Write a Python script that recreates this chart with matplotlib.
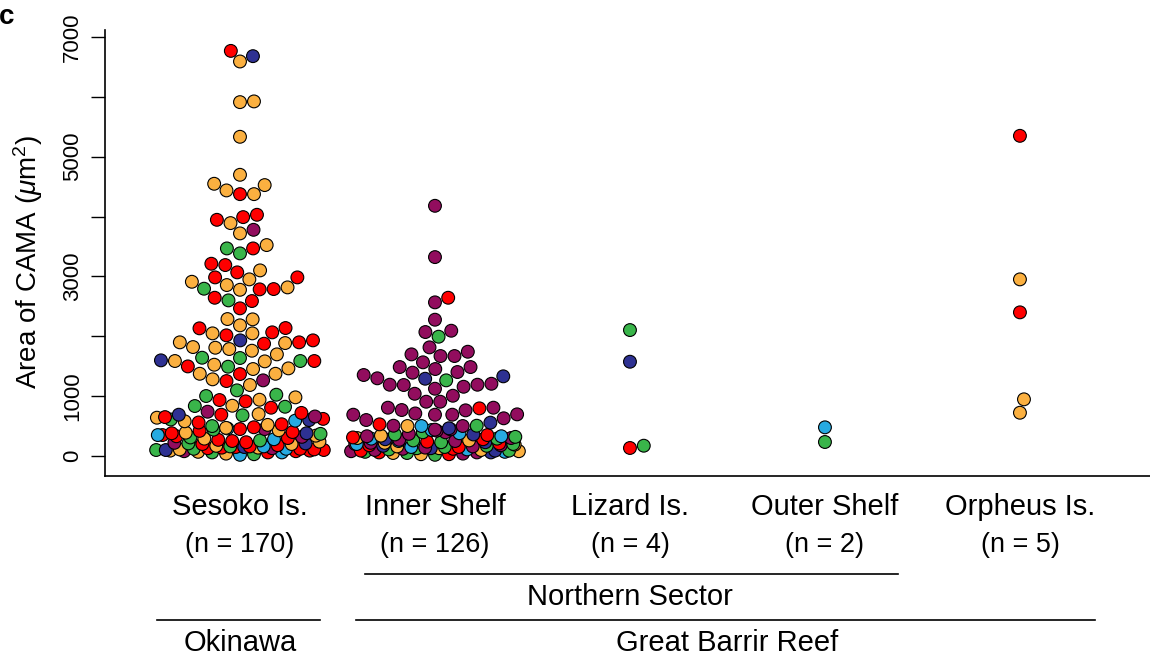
import numpy as np
import matplotlib.pyplot as plt
from matplotlib.transforms import blended_transform_factory

plt.rcParams['font.family'] = ['Liberation Sans', 'DejaVu Sans']
plt.rcParams['mathtext.fontset'] = 'custom'
plt.rcParams['mathtext.rm'] = 'Liberation Sans'
plt.rcParams['mathtext.it'] = 'Liberation Sans:italic'

sites = ['Sesoko Is.', 'Inner Shelf', 'Lizard Is.', 'Outer Shelf', 'Orpheus Is.']

# colour codes: r red, o orange, g green, n navy, p purple, c cyan
palette = {'r': '#FF0000', 'o': '#FBB040', 'g': '#39B54A',
           'n': '#2E3192', 'p': '#920D5E', 'c': '#27AAE1'}

# Sesoko Is., upper part
sesoko_vals = [6768, 6680, 6591, 5924, 5912, 5333, 4698, 4548, 4526, 4437, 4375, 4375,
               4030, 3991, 3946, 3891, 3779, 3719,
               3524, 3468, 3468, 3385, 3212, 3190, 3101, 3068, 2984, 2984, 2951, 2911,
               2856, 2817, 2795, 2789, 2784, 2777, 2644, 2600, 2589, 2467, 2288, 2283,
               2183, 2138, 2133, 2066, 2049, 2049, 2016,
               1932, 1932, 1899, 1899, 1887, 1876, 1820, 1809, 1787, 1759,
               1698, 1642, 1637, 1598, 1587, 1587, 1587, 1581, 1525, 1497, 1492, 1464, 1453,
               1374, 1374, 1369, 1281, 1264, 1252, 1186,
               1097, 1024, 1002, 980, 940, 935, 913, 840, 835, 823, 807]
sesoko_cols = ('rnooooooooro' 'rrropo'
               'orggrrorrroo' 'oogrrorgrroo' 'orrroor'
               'nrrooroooo'
               'oggngoroorgoo'
               'ooropro'
               'gggoorroggr')

# Sesoko Is. crowded bottom, by colour
sesoko_low_r = [720, 690, 650, 620, 560, 530, 480, 450, 420, 400, 380, 350, 330, 300, 270,
                250, 230, 200, 180, 160, 150, 140, 130, 120, 110, 100, 90, 80, 60]
sesoko_low_o = [700, 640, 580, 520, 470, 430, 390, 340, 290, 240, 200, 170, 140, 110, 90, 70, 40]
sesoko_low_g = [680, 610, 500, 440, 370, 310, 260, 210, 160, 120, 100, 60, 30]
sesoko_low_p = [740, 660, 450, 320, 220, 130, 80]
sesoko_low_n = [690, 600, 380, 210, 150, 100]
sesoko_low_c = [590, 460, 350, 280, 160, 120, 60, 20]

# Inner Shelf, upper part
inner_vals = [4180, 3323, 2644, 2567, 2277, 2093, 2071, 1993, 1815, 1698,
              1670, 1670, 1742, 1565, 1486, 1403, 1453, 1353, 1392, 1486,
              1331, 1291, 1207, 1186, 1298, 1157, 1124, 1191, 1191, 1264,
              1040, 1007, 907, 907, 796, 763, 807, 711, 696, 690,
              601, 630, 690, 690, 768, 807, 501, 506, 501, 440,
              396, 434, 529, 396, 423, 463, 501, 506, 446, 557]
inner_cols = ('pprppppgpp' 'pppppppppp' 'nnpppppppg'
              'pppprppppp' 'ppppppcpop' 'gcrppnpgpn')

inner_low_p = [370, 330, 300, 270, 250, 220, 200, 180, 160, 140, 120, 100, 80, 60, 40]
inner_low_g = [360, 320, 290, 260, 230, 200, 170, 150, 130, 110, 90, 70, 50, 20]
inner_low_r = [350, 310, 280, 240, 210, 180, 150, 120, 90, 60, 30]
inner_low_o = [340, 300, 260, 220, 190, 160, 130, 100, 80, 50, 30]
inner_low_c = [380, 330, 290, 250, 200, 150, 110, 70]
inner_low_n = [360, 280, 230, 170, 130, 90, 60]

lizard_vals = [2104, 1575, 134, 172]
lizard_cols = 'gnrg'
outer_vals = [479, 234]
outer_cols = 'cg'
orpheus_vals = [5349, 2951, 2400, 947, 723]
orpheus_cols = 'roroo'


def add_low(vals, cols, parts):
    vals = list(vals)
    cols = list(cols)
    for code, v in parts:
        vals += v
        cols += [code] * len(v)
    return vals, cols


sv, sc = add_low(sesoko_vals, sesoko_cols,
                 [('r', sesoko_low_r), ('o', sesoko_low_o), ('g', sesoko_low_g),
                  ('p', sesoko_low_p), ('n', sesoko_low_n), ('c', sesoko_low_c)])
iv, ic = add_low(inner_vals, inner_cols,
                 [('p', inner_low_p), ('g', inner_low_g), ('r', inner_low_r),
                  ('o', inner_low_o), ('c', inner_low_c), ('n', inner_low_n)])
groups = [(sv, sc), (iv, ic), (lizard_vals, list(lizard_cols)),
          (outer_vals, list(outer_cols)), (orpheus_vals, list(orpheus_cols))]

W, H = 1150, 658
fig = plt.figure(figsize=(W / 100, H / 100), dpi=100)
ax = fig.add_axes([105 / W, 1 - 476 / H, 1 - 105 / W, (476 - 30) / H])
ax.set_xlim(0.3077, 5.667)
ax.set_ylim(-334, 7117)

px_x = 195.0
px_y = 419 / 7000
d = 14.0
half = 86.0


def swarm(vals):
    y = np.asarray(vals, float) * px_y
    order = np.argsort(y, kind='stable')
    xs = np.zeros(len(y))
    done = []
    for i in order:
        near = [j for j in done if abs(y[j] - y[i]) < d]
        cands = [0.0]
        for j in near:
            dx = np.sqrt(d * d - (y[j] - y[i]) ** 2)
            cands += [xs[j] + dx, xs[j] - dx]
        cands.sort(key=abs)
        for c in cands:
            if all((c - xs[j]) ** 2 + (y[j] - y[i]) ** 2 >= d * d - 1e-6 for j in near):
                xs[i] = c
                break
        done.append(i)
    xs = (xs + half) % (2 * half) - half
    return xs, order


for k, (vals, cols) in enumerate(groups):
    xs, order = swarm(vals)
    vals = np.asarray(vals, float)
    ax.scatter(k + 1 + xs[order] / px_x, vals[order], s=85,
               c=[palette[cols[i]] for i in order],
               edgecolors='black', linewidths=0.8, zorder=3, clip_on=False)

ax.spines['top'].set_visible(False)
ax.spines['right'].set_visible(False)
ax.spines['left'].set_linewidth(1.2)
ax.spines['bottom'].set_linewidth(1.2)
ax.set_xticks([])
ax.set_yticks(range(0, 7001, 1000))
ax.set_yticklabels(['0', '1000', '', '3000', '', '5000', '', '7000'])
ax.tick_params(axis='y', length=10, width=1, pad=6, labelsize=16, labelrotation=90)
for lbl in ax.get_yticklabels():
    lbl.set_va('center')

fig.text(28 / W, 1 - 262 / H, r'Area of CAMA ($\mu$m$^2$)', rotation=90,
         ha='center', va='center', fontsize=20)
fig.text(7 / W, 1 - 17 / H, 'c', fontsize=20, fontweight='bold', ha='center', va='center')

trans = blended_transform_factory(ax.transData, fig.transFigure)
for k, (name, (vals, cols)) in enumerate(zip(sites, groups)):
    ax.text(k + 1, 1 - 507 / H, name, ha='center', va='center', fontsize=21, transform=trans)
    ax.text(k + 1, 1 - 545 / H, '(n = %d)' % len(vals), ha='center', va='center',
            fontsize=19.5, transform=trans)

ax.plot([2 - 70 / px_x, 4 + 73 / px_x], [1 - 574 / H] * 2, color='black', lw=1.2,
        transform=trans, clip_on=False)
ax.text(3, 1 - 597 / H, 'Northern Sector', ha='center', va='center', fontsize=21, transform=trans)
ax.plot([1 - 83 / px_x, 1 + 80 / px_x], [1 - 620 / H] * 2, color='black', lw=1.2,
        transform=trans, clip_on=False)
ax.plot([2 - 79 / px_x, 5 + 75 / px_x], [1 - 620 / H] * 2, color='black', lw=1.2,
        transform=trans, clip_on=False)
ax.text(1, 1 - 643 / H, 'Okinawa', ha='center', va='center', fontsize=21, transform=trans)
ax.text(3.5, 1 - 643 / H, 'Great Barrir Reef', ha='center', va='center', fontsize=21,
        transform=trans)

fig.savefig('out.png', dpi=100)
